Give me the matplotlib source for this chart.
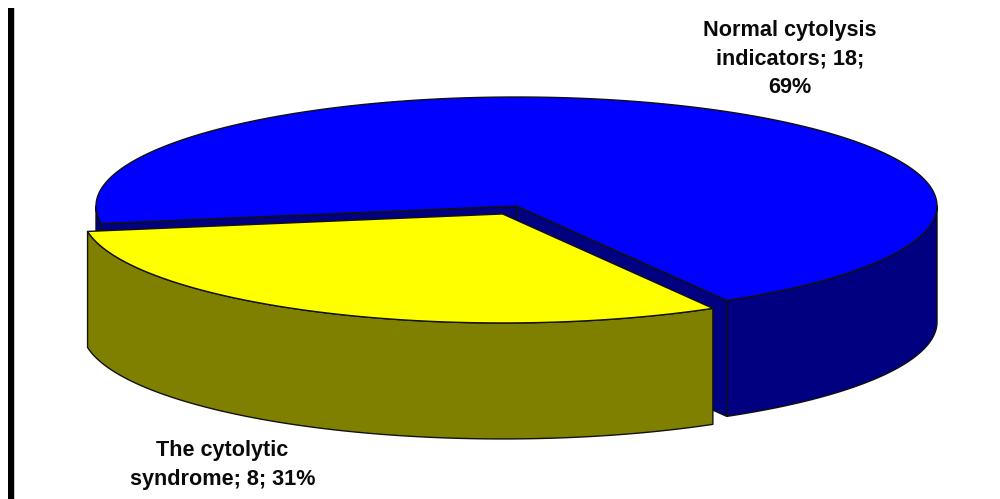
import numpy as np
import matplotlib
matplotlib.use("Agg")
import matplotlib.pyplot as plt
from matplotlib.patches import Polygon, Rectangle

labels = ["Normal cytolysis\nindicators; 18;\n69%", "The cytolytic\nsyndrome; 8; 31%"]
values = [18, 8]

W, H = 1000, 499
# top ellipse of the pie, in pixels
PIE_LEFT, PIE_RIGHT = 96, 937
PIE_TOP, PIE_BOTTOM = 97, 315
START = 60.0    # where the blue slice ends, degrees clockwise from 3 o'clock
DEPTH = 1.064
EXPLODE = (-0.033, -0.073)
EDGE = dict(edgecolor="#111111", linewidth=1.0, joinstyle="round", clip_on=False)


def arc(t0, t1):
    t = np.radians(np.linspace(t0, t1, 200))
    return np.column_stack([np.cos(t), -np.sin(t)])


def draw_slice(ax, t0, t1, top, side, offset=(0, 0), walls=False):
    rim = arc(t0, t1)
    dz = np.array([0, DEPTH])
    off = np.array(offset)
    if walls:
        centre = np.zeros(2)
        # inner faces of the cut
        for p in (rim[0], rim[-1]):
            wall = [centre, p, p - dz, centre - dz]
            ax.add_patch(Polygon(np.array(wall) + off, facecolor=side, **EDGE))
    # outer wall, only the parts facing the viewer
    spans = [(max(t0, 0), min(t1, 180))]
    if t1 > 360:
        spans.append((360, min(t1, 540)))
    for lo, hi in spans:
        if lo < hi:
            front = arc(lo, hi)
            pts = np.vstack([front, (front - dz)[::-1]])
            ax.add_patch(Polygon(pts + off, facecolor=side, **EDGE))
    # top face
    pts = np.vstack([[0, 0], rim])
    ax.add_patch(Polygon(pts + off, facecolor=top, **EDGE))


fig = plt.figure(figsize=(W / 100, H / 100), dpi=100, facecolor="white")
plt.rcParams["font.family"] = ["Liberation Sans", "DejaVu Sans"]

ax = fig.add_axes([PIE_LEFT / W, 1 - PIE_BOTTOM / H,
                   (PIE_RIGHT - PIE_LEFT) / W, (PIE_BOTTOM - PIE_TOP) / H])
ax.set_xlim(-1, 1)
ax.set_ylim(-1, 1)
ax.axis("off")

sweep = 360 * np.array(values) / sum(values)
syndrome_end = START + sweep[1]

# blue slice wraps round the back, yellow one is pulled out in front
draw_slice(ax, syndrome_end, syndrome_end + sweep[0], "#0000FF", "#000080", walls=True)
draw_slice(ax, START, syndrome_end, "#FFFF00", "#808000", offset=EXPLODE)

fig.text(790 / W, 1 - 59 / H, labels[0], ha="center", va="center", fontsize=15.6,
         fontweight="bold", linespacing=1.45, color="#0a0a0a")
fig.text(222.5 / W, 1 - 465 / H, labels[1], ha="center", va="center", fontsize=15.6,
         fontweight="bold", linespacing=1.45, color="#0a0a0a")

# black rule down the left side, with its thin grey edge
fig.add_artist(Rectangle((14 / W, 0), 1 / W, 1 - 8 / H, transform=fig.transFigure,
                         facecolor="#c8c8c8", edgecolor="none"))
fig.add_artist(Rectangle((8 / W, 0), 6 / W, 1 - 8 / H, transform=fig.transFigure,
                         facecolor="black", edgecolor="none"))

fig.savefig("out.png", dpi=100)
